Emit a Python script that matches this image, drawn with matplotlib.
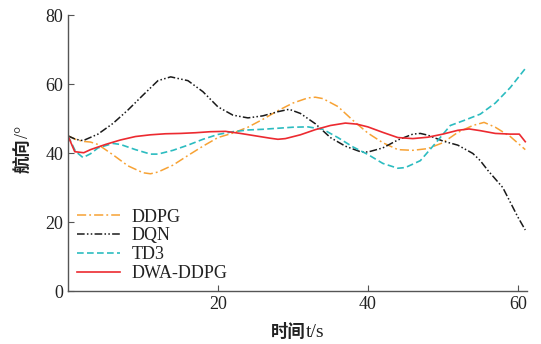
import matplotlib
matplotlib.use("Agg")
import matplotlib.pyplot as plt

t_dqn = [0, 1, 2, 4, 6, 8, 10, 12, 13.7, 16, 18, 20, 22, 24, 26, 28, 29.5, 31, 33, 35, 37, 39, 40, 42, 44, 46, 47, 48, 50, 52, 54, 55, 56, 58, 60, 61]
v_dqn = [45, 44, 43.6, 45.5, 48.6, 52.5, 56.8, 61, 62.1, 61, 57.8, 53.4, 51, 50.2, 50.8, 52, 52.7, 51.5, 48.5, 44.5, 42, 40.4, 40.3, 41.5, 43.8, 45.5, 45.7, 45.2, 43.5, 42.3, 39.9, 37.8, 35, 30, 21.5, 17.7]

t_ddpg = [0, 1, 2, 3, 4, 6, 8, 10, 11, 12, 14, 16, 18, 20, 22, 24, 26, 28, 30, 32, 33, 34, 36, 38, 40, 42, 44, 46, 48, 50, 52, 54, 55.5, 57, 59, 61]
v_ddpg = [45, 44, 43.4, 43.2, 42.5, 39.5, 36.3, 34.3, 34, 34.5, 36.5, 39.3, 42, 44.5, 45.8, 47.5, 49.8, 52.3, 54.5, 56, 56.2, 55.8, 53.5, 49.5, 45.8, 43, 41, 40.8, 41.3, 43, 46, 48, 48.9, 47.5, 44.8, 41]

t_td3 = [0, 1, 2, 3, 4, 6, 7, 9, 11, 12, 14, 16, 18, 20, 22, 24, 26, 28, 30, 32, 34, 36, 38, 40, 42, 44, 45, 47, 49, 51, 53, 55, 57, 59, 61]
v_td3 = [45, 40.5, 38.7, 39.8, 41.5, 42.8, 42.5, 41, 39.7, 39.7, 40.8, 42.3, 44, 45.4, 46.2, 46.7, 46.9, 47.2, 47.5, 47.6, 46.9, 44.5, 41.8, 39.6, 37, 35.6, 35.8, 37.8, 42.8, 48, 49.6, 51.3, 54.5, 59, 64.5]

t_dwa = [0, 0.9, 2.1, 3, 5, 7, 9, 11, 13, 15, 17, 19, 21, 23, 25, 27, 28, 29, 31, 33, 35, 37, 38.5, 40, 42, 44, 46, 48, 50, 52, 53.5, 55, 57, 59, 60.2, 61]
v_dwa = [45, 40.4, 40.1, 41, 42.5, 43.8, 44.8, 45.3, 45.6, 45.7, 45.9, 46.2, 46.3, 45.7, 45, 44.3, 44, 44.2, 45.3, 46.8, 48, 48.7, 48.4, 47.6, 46, 44.5, 44.2, 44.6, 45.5, 46.6, 47, 46.5, 45.7, 45.5, 45.5, 43.3]

labels = ["DDPG", "DQN", "TD3", "DWA-DDPG"]
xticks = [20, 40, 60]
yticks = [0, 20, 40, 60, 80]
xlabel_parts = ["时间", "t/s"]
ylabel_parts = ["航向", "/°"]

serif = ["Liberation Serif", "DejaVu Serif"]
cjk = ["Noto Sans CJK SC", "DejaVu Sans"]
W, H = 541, 344

fig = plt.figure(figsize=(5.41, 3.44), dpi=100)
ax = fig.add_axes([0.1257, 0.154, 0.848, 0.802])

ax.plot(t_ddpg, v_ddpg, color="#f7a234", lw=1.1, ls=(0, (6, 2, 1.2, 2)), label=labels[0])
ax.plot(t_dqn, v_dqn, color="#1a1a1a", lw=1.1, ls=(0, (5, 1.5, 1, 1.5, 1, 1.5)), label=labels[1])
ax.plot(t_td3, v_td3, color="#2cbcc0", lw=1.2, ls=(0, (4, 2)), label=labels[2])
ax.plot(t_dwa, v_dwa, color="#ec2a30", lw=1.2, label=labels[3])

ax.set_xlim(0, 61.2)
ax.set_ylim(0, 80)
ax.set_xticks(xticks)
ax.set_yticks(yticks)
ax.tick_params(direction="in", length=4, width=0.8, colors="#555555", labelcolor="#222222")
for lab in ax.get_xticklabels() + ax.get_yticklabels():
    lab.set_fontfamily(serif)
    lab.set_fontsize(13)
ax.spines["top"].set_visible(False)
ax.spines["right"].set_visible(False)
for s in ("left", "bottom"):
    ax.spines[s].set_color("#555555")
    ax.spines[s].set_linewidth(1.0)

leg = ax.legend(loc="lower left", frameon=False, prop={"family": serif, "size": 13},
                handlelength=2.4, handletextpad=0.6, labelspacing=0.1,
                borderaxespad=0.1, bbox_to_anchor=(0.0, 0.0))
for txt in leg.get_texts():
    txt.set_color("#222222")

# axis labels: bold CJK part + regular serif part
renderer = fig.canvas.get_renderer()
x0 = 271
xa = fig.text(x0 / W, 1 - 337 / H, xlabel_parts[0], family=cjk, weight="bold", size=12.5,
              ha="left", va="baseline", color="#222222")
ext = xa.get_window_extent(renderer)
fig.text((ext.x1 + 0.5) / W, 1 - 337 / H, xlabel_parts[1], family=serif, size=14,
         ha="left", va="baseline", color="#222222")

y0 = 173
ya = fig.text(23 / W, 1 - y0 / H, ylabel_parts[0], family=cjk, weight="bold", size=12.5,
              rotation=90, ha="center", va="bottom", color="#222222")
ext = ya.get_window_extent(renderer)
fig.text(23.5 / W, (ext.y1 + 0.5) / H, ylabel_parts[1], family=serif, size=13,
         rotation=90, ha="center", va="bottom", color="#222222")

fig.savefig("out.png", dpi=100)
